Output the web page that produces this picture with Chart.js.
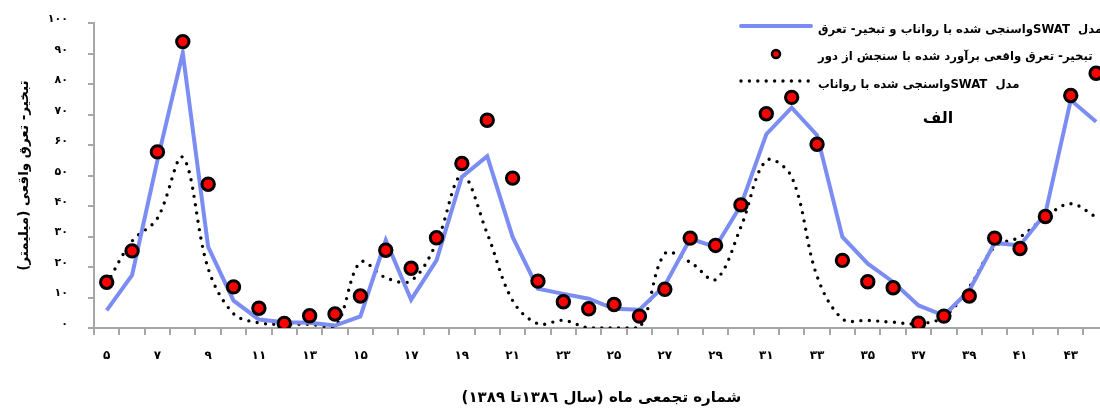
<!DOCTYPE html>
<html>
<head>
<meta charset="utf-8">
<script src="https://cdn.jsdelivr.net/npm/chart.js@4.4.1/dist/chart.umd.min.js"></script>
<style>
html,body{margin:0;padding:0;background:#fff;overflow:hidden;width:1100px;height:412px}
canvas{display:block}
</style>
</head>
<body>
<canvas id="c" width="1118" height="412"></canvas>
<script>
// Cumulative month numbers (categories 5..44)
const months = ['۵','۶','۷','۸','۹','۱۰','۱۱','۱۲','۱۳','۱۴','۱۵','۱۶','۱۷','۱۸','۱۹','۲۰','۲۱','۲۲','۲۳','۲۴','۲۵','۲۶','۲۷','۲۸','۲۹','۳۰','۳۱','۳۲','۳۳','۳۴','۳۵','۳۶','۳۷','۳۸','۳۹','۴۰','۴۱','۴۲','۴۳','۴۴'];
const yTickLabels = ['۰','۱۰','۲۰','۳۰','۴۰','۵۰','۶۰','۷۰','۸۰','۹۰','۱۰۰'];

// SWAT calibrated with runoff and ET (solid blue)
const swatRunoffEt = [5.8,17.3,55,90.2,26.6,9.0,2.8,1.9,1.7,0.8,3.8,28.8,9.3,22.2,49.6,56.4,29.9,12.9,11.2,9.6,6.3,6.0,14.0,29.3,26.6,40.3,63.6,72.3,63.3,29.9,21.1,15.1,7.4,4.1,12.3,27.9,27.1,37.6,74.8,67.7];
// Remote-sensing actual ET (red dots)
const remoteSensingEt = [15.0,25.3,57.8,94.0,47.2,13.5,6.5,1.5,4.0,4.6,10.5,25.5,19.6,29.6,54.0,68.2,49.2,15.4,8.6,6.3,7.7,3.9,12.7,29.5,27.1,40.4,70.3,75.7,60.3,22.2,15.2,13.2,1.6,3.9,10.5,29.5,26.1,36.6,76.3,83.6];
// SWAT calibrated with runoff only (dotted)
const swatRunoff = [14.5,28.5,36,56,19.5,4.7,1.7,1.2,1.2,0.3,21.6,16.5,15.5,28,50.2,31,9,1.4,2.5,0,0,0,24.4,21.6,15.9,33.2,55,49.6,17,3,2.5,1.9,1.4,3.6,13.4,26.6,29.9,36.4,40.8,36.4];

const seriesLabels = [
  'مدل  SWATواسنجی شده با رواناب و تبخیر- تعرق',
  'تبخیر- تعرق واقعی برآورد شده با سنجش از دور',
  'مدل  SWATواسنجی شده با رواناب'
];
const xTitle = 'شماره تجمعی ماه (سال ۱۳۸٦تا ۱۳۸۹)';
const yTitle = 'تبخیر- تعرق واقعی (میلیمتر)';
const panelLabel = 'الف';

const FONT = "'DejaVu Sans', sans-serif";
const AXIS = '#a6a6a6';

const legendPlugin = {
  id: 'rtlLegend',
  afterDraw(chart) {
    const ctx = chart.ctx;
    const ds = chart.data.datasets;
    const rows = [
      {d: ds[0], y: 26, ty: 30, kind: 'line'},
      {d: ds[1], y: 54, ty: 57, kind: 'point'},
      {d: ds[2], y: 81, ty: 85, kind: 'line'}
    ];
    ctx.save();
    rows.forEach(r => {
      if (r.kind === 'line') {
        ctx.beginPath();
        ctx.strokeStyle = r.d.borderColor;
        ctx.lineWidth = r.d.borderWidth;
        ctx.lineCap = 'round';
        ctx.setLineDash(r.d.borderDash || []);
        ctx.moveTo(741, r.y);
        ctx.lineTo(811, r.y);
        ctx.stroke();
        ctx.setLineDash([]);
      } else {
        ctx.beginPath();
        ctx.arc(776, r.y, 4, 0, Math.PI * 2);
        ctx.fillStyle = r.d.pointBackgroundColor;
        ctx.fill();
        ctx.lineWidth = 2.5;
        ctx.strokeStyle = r.d.pointBorderColor;
        ctx.stroke();
      }
      ctx.fillStyle = '#000';
      ctx.font = 'bold 11.7px ' + FONT;
      ctx.direction = 'rtl';
      ctx.textAlign = 'left';
      ctx.textBaseline = 'middle';
      ctx.fillText(r.d.label, 818, r.ty);
    });
    ctx.font = 'bold 16px ' + FONT;
    ctx.textAlign = 'center';
    ctx.direction = 'rtl';
    ctx.fillText(panelLabel, 938, 119);
    ctx.restore();
  }
};

new Chart(document.getElementById('c'), {
  type: 'line',
  data: {
    labels: months,
    datasets: [
      {
        label: seriesLabels[0],
        data: swatRunoffEt,
        borderColor: '#7b8cf3',
        backgroundColor: '#7b8cf3',
        borderWidth: 4,
        pointRadius: 0,
        tension: 0,
        fill: false,
        order: 1
      },
      {
        label: seriesLabels[1],
        data: remoteSensingEt,
        showLine: false,
        pointRadius: 6.2,
        pointBorderWidth: 3,
        pointBackgroundColor: '#ff0000',
        pointBorderColor: '#000000',
        backgroundColor: '#ff0000',
        borderColor: '#000000',
        order: 0
      },
      {
        label: seriesLabels[2],
        data: swatRunoff,
        borderColor: '#000000',
        backgroundColor: '#000000',
        borderWidth: 3.4,
        borderDash: [0, 8.4],
        borderCapStyle: 'round',
        pointRadius: 0,
        tension: 0.35,
        fill: false,
        order: 2
      }
    ]
  },
  plugins: [legendPlugin],
  options: {
    responsive: false,
    animation: false,
    layout: {padding: {top: 23.3, right: 1, left: 0, bottom: 0}},
    plugins: {legend: {display: false}, tooltip: {enabled: false}},
    scales: {
      x: {
        offset: true,
        grid: {offset: true, drawOnChartArea: false, drawTicks: true, tickLength: 7, color: AXIS, lineWidth: 2},
        border: {color: AXIS, width: 2},
        ticks: {
          autoSkip: false, maxRotation: 0, padding: 14,
          color: '#000',
          font: {family: FONT, size: 12, weight: 'bold'},
          callback: (v, i) => (i % 2 === 0 ? months[i] : '')
        },
        title: {display: true, text: xTitle, color: '#000', font: {family: FONT, size: 15, weight: 'bold'}, padding: {top: 0, bottom: 5}},
        afterFit: s => { s.height = 84; }
      },
      y: {
        min: 0, max: 100,
        grid: {drawOnChartArea: false, drawTicks: true, tickLength: 6, color: AXIS, lineWidth: 2},
        border: {color: AXIS, width: 2},
        ticks: {
          stepSize: 10, padding: 20, labelOffset: -4,
          color: '#000',
          font: {family: FONT, size: 11, weight: 'bold'},
          callback: (v, i) => yTickLabels[i]
        },
        title: {display: true, text: yTitle, color: '#000', font: {family: FONT, size: 13.5, weight: 'bold'}, padding: {top: 16, bottom: 0}},
        afterFit: s => { s.width = 94; s.paddingTop = 0; s.paddingBottom = 0; }
      }
    }
  }
});
</script>
</body>
</html>
